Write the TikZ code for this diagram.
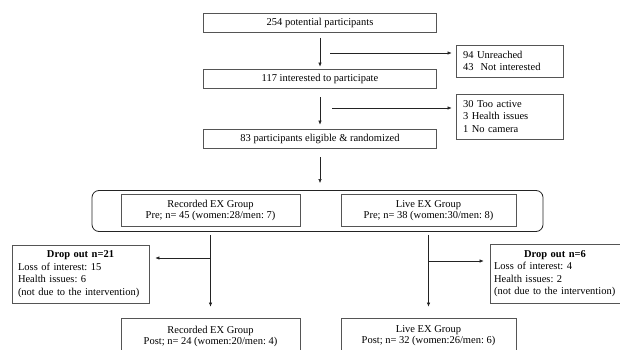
\documentclass[tikz,border=0pt]{standalone}
\usepackage{fontspec}
\setmainfont{Liberation Serif}
\usepackage{tikz}
\usetikzlibrary{arrows.meta, positioning}
\definecolor{boxgray}{RGB}{85,85,85}
\definecolor{linegray}{RGB}{35,35,35}
\frenchspacing
\newcommand{\flowfont}{\fontsize{10.5}{11}\selectfont}
\newcommand{\listfont}{\fontsize{10.5}{12.5}\selectfont\hyphenpenalty=10000}
\tikzset{
  mainbox/.style={rectangle, draw=boxgray, minimum width=233pt,
    minimum height=19pt, inner sep=0pt, font=\flowfont, line width=0.7pt},
  sidebox/.style={rectangle, draw=boxgray, text width=93pt, align=left,
    inner xsep=7pt, inner ysep=2pt, font=\listfont, line width=0.7pt},
  groupbox/.style={rectangle, draw=boxgray, minimum height=32pt,
    align=center, inner sep=0pt, font=\flowfont, line width=0.7pt},
  dropbox/.style={rectangle, draw=boxgray, align=left, inner xsep=6pt,
    inner ysep=2pt, font=\listfont, line width=0.7pt},
  outerbox/.style={rectangle, draw=linegray, rounded corners=7pt,
    line width=0.8pt},
  arrow/.style={-{Latex[length=4pt,width=3.5pt]}, line width=0.6pt, color=linegray}
}
\begin{document}
\begin{tikzpicture}[x=1pt, y=-1pt]
  \useasboundingbox (0,0) rectangle (620,350);
  % Screening
  \node[mainbox] (potential) at (320,23) {254 potential participants};
  \node[mainbox] (interested) at (320,78.5) {117 interested to participate};
  \node[mainbox] (eligible) at (320,138.5) {83 participants eligible \& randomized};
  \node[sidebox, minimum height=32pt] (unreached) at (509.5,61)
    {94 Unreached\\43~ Not interested};
  \node[sidebox, minimum height=45pt] (excluded) at (509.5,116.5)
    {30 Too active\\3 Health issues\\1 No camera};
  % Groups
  \node[outerbox, minimum width=451pt, minimum height=41pt] (groups) at (317.5,211) {};
  \node[groupbox, minimum width=179pt] (recpre) at (210.5,210)
    {Recorded EX Group\\Pre; n= 45 (women:28/men: 7)};
  \node[groupbox, minimum width=175pt] (livepre) at (428.5,210.5)
    {Live EX Group\\Pre; n= 38 (women:30/men: 8)};
  % Drop outs
  \node[dropbox, text width=125pt, minimum height=58pt] (dropleft) at (80.5,274)
    {{\centering\textbf{Drop out n=21}\par}Loss of interest: 15\\Health issues: 6\\(not due to the intervention)};
  \node[dropbox, text width=122pt, inner xsep=4pt, minimum height=59pt] (dropright) at (555,273.5)
    {{\centering\textbf{Drop out n=6}\par}Loss of interest: 4\\Health issues: 2\\(not due to the intervention)};
  % Post
  \node[groupbox, minimum width=179pt, minimum height=36pt] (recpost) at (210.5,336)
    {Recorded EX Group\\Post; n= 24 (women:20/men: 4)};
  \node[groupbox, minimum width=175pt, minimum height=36pt] (livepost) at (428.5,336)
    {Live EX Group\\Post; n= 32 (women:26/men: 6)};
  % Arrows
  \draw[arrow, shorten <=5pt, shorten >=2pt] (potential) -- (interested);
  \draw[arrow, shorten <=9pt, shorten >=4pt] (interested) -- (eligible);
  \draw[arrow, shorten <=9pt, shorten >=7pt] (eligible.south) -- (eligible.south |- groups.north);
  \coordinate (split1) at (330,53);
  \coordinate (split2) at (332,108);
  \draw[arrow, shorten >=4pt] (split1) -- (split1 -| unreached.west);
  \draw[arrow, shorten >=4pt] (split2) -- (split2 -| excluded.west);
  \draw[arrow, shorten <=3pt, shorten >=11pt] (recpre.south |- groups.south) -- (recpost.north);
  \draw[arrow, shorten <=3pt, shorten >=11pt] (livepre.south |- groups.south) -- (livepost.north);
  \coordinate (splitleft) at (210.5,258);
  \coordinate (splitright) at (428.5,261);
  \draw[arrow, shorten >=6pt] (splitleft) -- (splitleft -| dropleft.east);
  \draw[arrow, shorten >=6pt] (splitright) -- (splitright -| dropright.west);
\end{tikzpicture}
\end{document}
